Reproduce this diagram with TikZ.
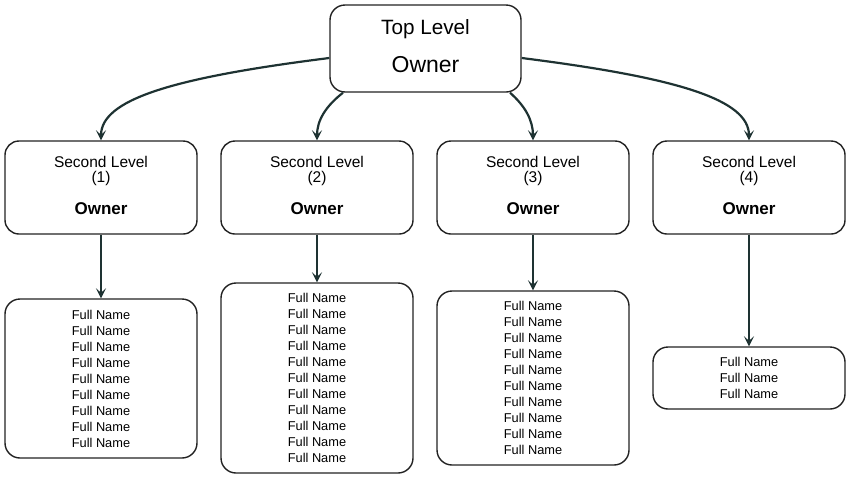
\documentclass[tikz,border=0pt]{standalone}
\usepackage{fontspec}
\setmainfont{Liberation Sans}
\usetikzlibrary{arrows.meta}
\definecolor{arrowc}{HTML}{1E3232}
\definecolor{boxc}{HTML}{222222}
\tikzset{
  box/.style={draw=boxc, line width=1.4pt, rounded corners=15pt, fill=white,
    minimum width=191pt, inner sep=0pt, align=center},
  listbox/.style={box, minimum width=192pt, font=\fontsize{12.8}{16}\selectfont},
  conn/.style={draw=arrowc, line width=2.2pt, -{Stealth[length=10pt,width=10pt,inset=4.5pt]}},
  lvltxt/.style={font=\fontsize{15.5}{16}\selectfont, align=center, inner sep=0pt},
  ownb/.style={font=\fontsize{17}{18}\selectfont\bfseries, inner sep=0pt}
}
\begin{document}
\begin{tikzpicture}[x=1pt,y=-1pt]
\useasboundingbox (0,0) rectangle (851,480);
% top
\node[box, minimum height=87pt] (top) at (425.5,48.5) {};
\node[font=\fontsize{20.7}{21}\selectfont, inner sep=0pt] (toptxt) at (425.5,29) {Top Level};
\node[font=\fontsize{23}{23}\selectfont, inner sep=0pt] (topown) at (425.5,64.5) {Owner};
% second level
\foreach \i/\x in {1/101,2/317,3/533,4/749}{
  \node[box, minimum width=192pt, minimum height=93pt, rounded corners=14pt] (s\i) at (\x,187.5) {};
  \node[lvltxt] (st\i) at (\x,171) {Second Level\\[-1.5pt](\i)};
  \node[ownb] (so\i) at (\x,208.5) {Owner};
}
% lists
\node[listbox, minimum height=159pt] (l1) at (101,378.5) {Full Name\\Full Name\\Full Name\\Full Name\\Full Name\\Full Name\\Full Name\\Full Name\\Full Name};
\node[listbox, minimum height=190pt] (l2) at (317,378) {Full Name\\Full Name\\Full Name\\Full Name\\Full Name\\Full Name\\Full Name\\Full Name\\Full Name\\Full Name\\Full Name};
\node[listbox, minimum height=174pt] (l3) at (533,378) {Full Name\\Full Name\\Full Name\\Full Name\\Full Name\\Full Name\\Full Name\\Full Name\\Full Name\\Full Name};
\node[listbox, minimum height=62pt] (l4) at (749,378) {Full Name\\Full Name\\Full Name};
% connectors
\draw[conn] ([yshift=-9.5pt]top.west) .. controls (170,78) and (101,100) .. (s1.north);
\draw[conn] ([xshift=-82.5pt]top.south) .. controls (326,106) and (317,120) .. (s2.north);
\draw[conn] ([xshift=84.5pt]top.south) .. controls (525,106) and (533,120) .. (s3.north);
\draw[conn] ([yshift=-9.5pt]top.east) .. controls (680,78) and (749,100) .. (s4.north);
\foreach \i in {1,2,3,4}{
  \draw[conn] (s\i.south) -- (l\i.north);
}
\end{tikzpicture}
\end{document}
